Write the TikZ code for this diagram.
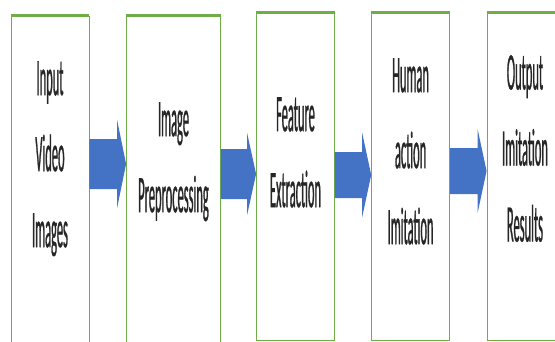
\documentclass[tikz,border=0pt]{standalone}
\usepackage{fontspec}
\newfontfamily\stagefont[FakeStretch=0.235,FakeBold=0.5]{Carlito}
\usetikzlibrary{calc}
\definecolor{boxgreen}{HTML}{70AD47}
\definecolor{flowblue}{HTML}{4472C4}
\tikzset{
  stage/.style={draw=boxgreen, line width=0.8pt, rectangle, inner sep=0pt},
  topline/.style={draw=boxgreen, line width=3pt},
  caption/.style={align=center, inner sep=0pt, anchor=north, text=black!85,
    font=\stagefont\fontsize{53}{76}\selectfont},
  flow/.style={fill=flowblue}
}
\begin{document}
\begin{tikzpicture}[x=1pt,y=-1pt]
	\useasboundingbox (0,0) rectangle (555,341);
	
	% boxes
	\node[stage, minimum width=78pt, minimum height=330pt] (b1) at (50,181) {};
	\node[stage, minimum width=94pt, minimum height=330pt] (b2) at (173.5,181) {};
	\node[stage, minimum width=78pt, minimum height=327pt] (b3) at (295.5,176.5) {};
	\node[stage, minimum width=78pt, minimum height=327pt] (b4) at (410.6,176.5) {};
	\node[stage, minimum width=76pt, minimum height=327pt] (b5) at (525,176.5) {};
	
	\draw[topline] (b1.north west) -- (b1.north east);
	\draw[topline] (b2.north west) -- (b2.north east);
	\draw[topline] (b3.north west) -- (b3.north east);
	\draw[topline] (b4.north west) -- (b4.north east);
	\draw[topline] (b5.north west) -- (b5.north east);
	
	% texts
	\node[caption] (t1) at (50,61) {Input\\Video\\Images};
	\node[caption] (t2) at (173.5,102) {Image\\Preprocessing};
	\node[caption] (t3) at (295.5,97) {Feature\\Extraction};
	\node[caption] (t4) at (410.6,58) {Human\\action\\Imitation};
	\node[caption] (t5) at (525,55) {Output\\Imitation\\Results};
	
	% block arrows
	\coordinate (y1) at (0,164); \coordinate (y2) at (0,174);
	\coordinate (y3) at (0,175); \coordinate (y4) at (0,171);
	
	\fill[flow] ($(b1.east |- y1)+(0,-25)$) -- ($(b2.west |- y1)+(-9,-25)$) -- ++(0,-19)
		-- (b2.west |- y1) -- ($(b2.west |- y1)+(-9,44)$) -- ++(0,-19) -- ($(b1.east |- y1)+(0,25)$) -- cycle;
	\fill[flow] ($(b2.east |- y2)+(0,-25)$) -- ($(b3.west |- y2)+(-9,-25)$) -- ++(0,-16)
		-- (b3.west |- y2) -- ($(b3.west |- y2)+(-9,41)$) -- ++(0,-16) -- ($(b2.east |- y2)+(0,25)$) -- cycle;
	\fill[flow] ($(b3.east |- y3)+(0,-23)$) -- ($(b4.west |- y3)+(-9,-23)$) -- ++(0,-19)
		-- (b4.west |- y3) -- ($(b4.west |- y3)+(-9,42)$) -- ++(0,-19) -- ($(b3.east |- y3)+(0,23)$) -- cycle;
	\fill[flow] ($(b4.east |- y4)+(0,-23)$) -- ($(b5.west |- y4)+(-9,-23)$) -- ++(0,-19)
		-- (b5.west |- y4) -- ($(b5.west |- y4)+(-9,42)$) -- ++(0,-19) -- ($(b4.east |- y4)+(0,23)$) -- cycle;
\end{tikzpicture}
\end{document}
